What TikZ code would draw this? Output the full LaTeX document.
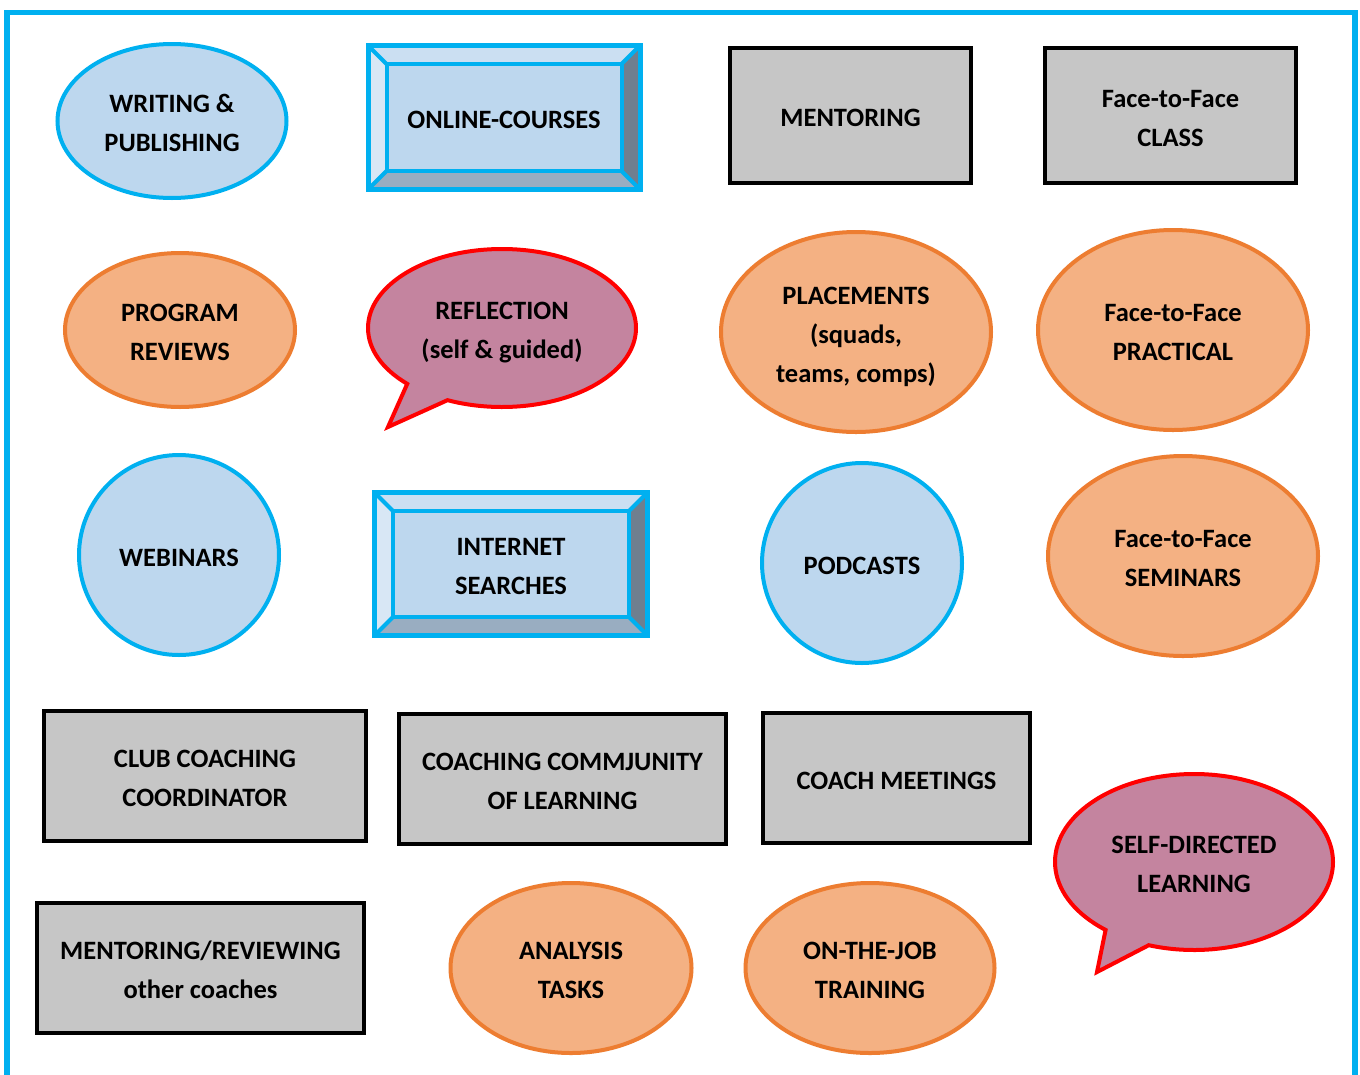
\documentclass[tikz,border=0pt]{standalone}
\usepackage{fontspec}
\setmainfont{Carlito}
\usetikzlibrary{shapes.geometric}

\definecolor{skyline}{HTML}{00B0F0}
\definecolor{paleblue}{HTML}{BDD7EE}
\definecolor{orangeline}{HTML}{ED7D31}
\definecolor{orangefill}{HTML}{F4B183}
\definecolor{boxgray}{HTML}{C6C6C6}
\definecolor{bubblefill}{HTML}{C4849F}
\definecolor{bubbleline}{HTML}{FF0000}
\definecolor{bevtop}{HTML}{CBDFF2}
\definecolor{bevleft}{HTML}{D8E7F5}
\definecolor{bevright}{HTML}{6F7F8F}
\definecolor{bevbottom}{HTML}{99ADC1}

% strut opening the first line of every label
\newcommand\capstrut{\rule{0pt}{30.5pt}}

% bevelled button: #1 name, #2 x1, #3 y1, #4 x2, #5 y2, #6 bevel depth, #7 label
\newcommand\bevelbox[7]{%
  \fill[white] (#2,#3) rectangle (#4,#5);
  \fill[bevtop]    (#2,#3) -- (#4,#3) -- (#4-#6,#3+#6) -- (#2+#6,#3+#6) -- cycle;
  \fill[bevleft]   (#2,#3) -- (#2+#6,#3+#6) -- (#2+#6,#5-#6) -- (#2,#5) -- cycle;
  \fill[bevright]  (#4,#3) -- (#4,#5) -- (#4-#6,#5-#6) -- (#4-#6,#3+#6) -- cycle;
  \fill[bevbottom] (#2,#5) -- (#4,#5) -- (#4-#6,#5-#6) -- (#2+#6,#5-#6) -- cycle;
  \draw[bevedge] (#2,#3) -- (#2+#6,#3+#6) (#4,#3) -- (#4-#6,#3+#6)
                 (#2,#5) -- (#2+#6,#5-#6) (#4,#5) -- (#4-#6,#5-#6);
  \draw[bevedge, fill=paleblue] (#2+#6,#3+#6) rectangle (#4-#6,#5-#6);
  \draw[bevedge, line width=5pt] (#2,#3) rectangle (#4,#5);
  \node[lbl] (#1) at ({(#2+#4)/2},{(#3+#5)/2}) {\capstrut#7};
}

\begin{document}
\begin{tikzpicture}[x=1pt,y=-1pt,
  lbl/.style={font=\fontsize{26.5}{39}\selectfont\bfseries, align=center, text=black, inner sep=0pt,
    execute at end node={\rule[-8pt]{0pt}{8pt}}},
  blueoval/.style={ellipse, draw=skyline, fill=paleblue, line width=4pt, lbl},
  orangeoval/.style={ellipse, draw=orangeline, fill=orangefill, line width=4pt, lbl},
  graybox/.style={rectangle, draw=black, fill=boxgray, line width=4.5pt, lbl},
  bevedge/.style={draw=skyline, line width=4pt},
  bubble/.style={draw=bubbleline, fill=bubblefill, line width=4pt, line join=miter},
]
\useasboundingbox (0,0) rectangle (1360,1074);
\fill[white] (0,0) rectangle (1360,1074);

% page frame, open at the bottom
\draw[skyline, line width=5.5pt] (7,1100) -- (7,12.5) -- (1355,12.5) -- (1355,1100);

% row 1
\node[blueoval, minimum width=229pt, minimum height=154pt] (writing) at (172,121) {\capstrut WRITING \&\\PUBLISHING};
\bevelbox{online}{368}{45.5}{640}{189.5}{18.5}{ONLINE-COURSES}
\node[graybox, minimum width=241pt, minimum height=135pt] (mentoring) at (850.5,115.5) {\capstrut MENTORING};
\node[graybox, minimum width=251pt, minimum height=135pt] (f2fclass) at (1170.5,115.5) {\capstrut Face-to-Face\\CLASS};

% row 2
\node[orangeoval, minimum width=230pt, minimum height=154pt] (program) at (180,330) {\capstrut PROGRAM\\REVIEWS};
\path[bubble, shift={(502,328)}] (135:134 and 79) arc[start angle=135, end angle=474, x radius=134, y radius=79]
  -- (-114,99) -- cycle;
\node[lbl] (reflection) at (502,328) {\capstrut REFLECTION\\(self \& guided)};
\node[orangeoval, minimum width=270pt, minimum height=200pt] (placements) at (856,332) {\capstrut PLACEMENTS\\(squads,\\teams, comps)};
\node[orangeoval, minimum width=270pt, minimum height=200pt] (f2fpractical) at (1173,330) {\capstrut Face-to-Face\\PRACTICAL};

% row 3
\node[blueoval, minimum width=200pt, minimum height=200pt] (webinars) at (179,555) {\capstrut WEBINARS};
\bevelbox{internet}{374.5}{492.5}{647.5}{635.5}{18.5}{INTERNET\\SEARCHES}
\node[blueoval, minimum width=200pt, minimum height=200pt] (podcasts) at (862,563) {\capstrut PODCASTS};
\node[orangeoval, minimum width=270pt, minimum height=200pt] (f2fseminars) at (1183,556) {\capstrut Face-to-Face\\SEMINARS};

% row 4
\node[graybox, minimum width=322pt, minimum height=130pt] (club) at (205,776) {\capstrut CLUB COACHING\\COORDINATOR};
\node[graybox, minimum width=327pt, minimum height=130pt] (community) at (562.5,779) {\capstrut COACHING COMMJUNITY\\OF LEARNING};
\node[graybox, minimum width=267pt, minimum height=130pt] (meetings) at (896.5,778) {\capstrut COACH MEETINGS};
\path[bubble, shift={(1194,862)}] (129.5:139 and 88) arc[start angle=129.5, end angle=469, x radius=139, y radius=88]
  -- (-97,110) -- cycle;
\node[lbl] (selfdirected) at (1194,862) {\capstrut SELF-DIRECTED\\LEARNING};

% row 5
\node[graybox, minimum width=327pt, minimum height=130pt] (reviewing) at (200.5,968) {\capstrut MENTORING/REVIEWING\\other coaches};
\node[orangeoval, minimum width=241pt, minimum height=170pt] (analysis) at (571,968) {\capstrut ANALYSIS\\TASKS};
\node[orangeoval, minimum width=249pt, minimum height=170pt] (onthejob) at (870,968) {\capstrut ON-THE-JOB\\TRAINING};
\end{tikzpicture}
\end{document}
